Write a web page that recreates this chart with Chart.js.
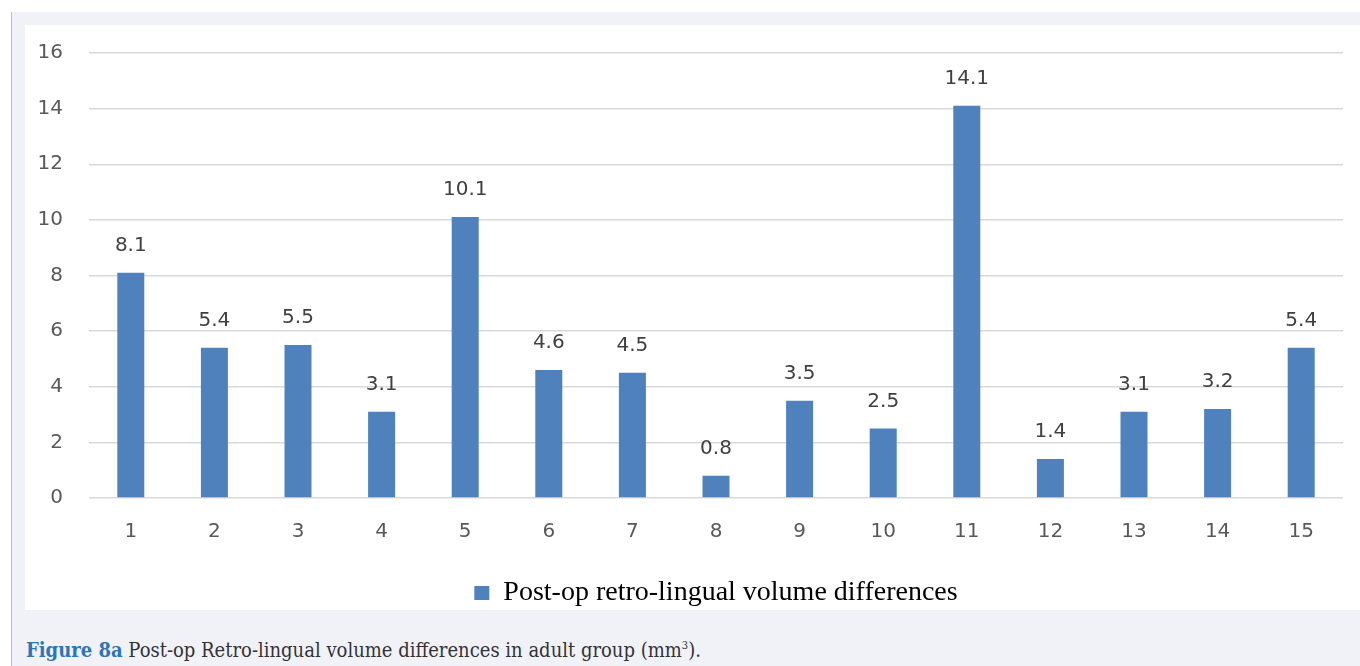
<!DOCTYPE html>
<html>
<head>
<meta charset="utf-8">
<script src="https://cdn.jsdelivr.net/npm/chart.js@4"></script>
<style>
  html, body { margin: 0; padding: 0; background: #fff; }
  body { width: 1360px; height: 666px; position: relative; overflow: hidden; }
  .panel {
    position: absolute; left: 11px; top: 12px; width: 1349px; height: 654px;
    background: #f0f2f8; border-left: 1px solid #a9c1e3;
  }
  .chartBox {
    position: absolute; left: 25px; top: 25px; width: 1335px; height: 585px;
    background: #fff;
  }
  #chart { position: absolute; left: 25px; top: 15px; }
  .caption {
    position: absolute; left: 26px; top: 638px;
    font-family: "DejaVu Serif Condensed", "DejaVu Serif", serif; font-size: 20px; color: #333;
    white-space: nowrap;
  }
  .caption b { color: #2e75b6; }
  .caption sup { font-size: 11px; }
</style>
</head>
<body>
<div class="panel"></div>
<div class="chartBox"></div>
<canvas id="chart" width="1335" height="602"></canvas>
<div class="caption"><b>Figure 8a</b> Post-op Retro-lingual volume differences in adult group (mm<sup>3</sup>).</div>
<script>
const categories = ['1', '2', '3', '4', '5', '6', '7', '8', '9', '10', '11', '12', '13', '14', '15'];
const volumeDiffs = [8.1, 5.4, 5.5, 3.1, 10.1, 4.6, 4.5, 0.8, 3.5, 2.5, 14.1, 1.4, 3.1, 3.2, 5.4];
const seriesLabel = 'Post-op retro-lingual volume differences';
const yMax = 16;
const yStep = 2;

const barColor = '#4f81bd';

// value labels above each bar
const valueLabels = {
  id: 'valueLabels',
  afterDatasetsDraw(chart) {
    const ctx = chart.ctx;
    const meta = chart.getDatasetMeta(0);
    ctx.save();
    ctx.font = '20px "DejaVu Sans"';
    ctx.fillStyle = '#404040';
    ctx.textAlign = 'center';
    ctx.textBaseline = 'middle';
    meta.data.forEach((bar, i) => {
      ctx.fillText(volumeDiffs[i].toFixed(1), bar.x, bar.y - 27);
    });
    ctx.restore();
  }
};

new Chart(document.getElementById('chart'), {
  type: 'bar',
  data: {
    labels: categories,
    datasets: [
      {
        label: seriesLabel,
        data: volumeDiffs,
        backgroundColor: barColor,
        borderWidth: 0,
        categoryPercentage: 1,
        barPercentage: 0.323
      }
    ]
  },
  options: {
    responsive: false,
    animation: false,
    layout: { padding: { top: 17, right: 17, left: 0, bottom: 0 } },
    plugins: {
      tooltip: { enabled: false },
      legend: {
        position: 'bottom',
        fullSize: false, // centre under the plot area, not the whole canvas
        labels: {
          color: '#000',
          boxWidth: 15,
          boxHeight: 14,
          padding: 2,
          font: { family: '"Liberation Serif"', size: 28 }
        }
      }
    },
    scales: {
      x: {
        grid: { display: false, drawTicks: false },
        border: { display: false },
        ticks: {
          color: '#595959',
          padding: 22,
          font: { family: '"DejaVu Sans"', size: 20 }
        },
        afterFit(scale) { scale.height = 79; }
      },
      y: {
        min: 0,
        max: yMax,
        grid: { color: '#d9d9d9', lineWidth: 1.5, drawTicks: false },
        border: { display: false },
        ticks: {
          stepSize: yStep,
          color: '#595959',
          padding: 26,
          font: { family: '"DejaVu Sans"', size: 20 }
        },
        afterFit(scale) { scale.width = 64; }
      }
    }
  },
  plugins: [valueLabels]
});
</script>
</body>
</html>
